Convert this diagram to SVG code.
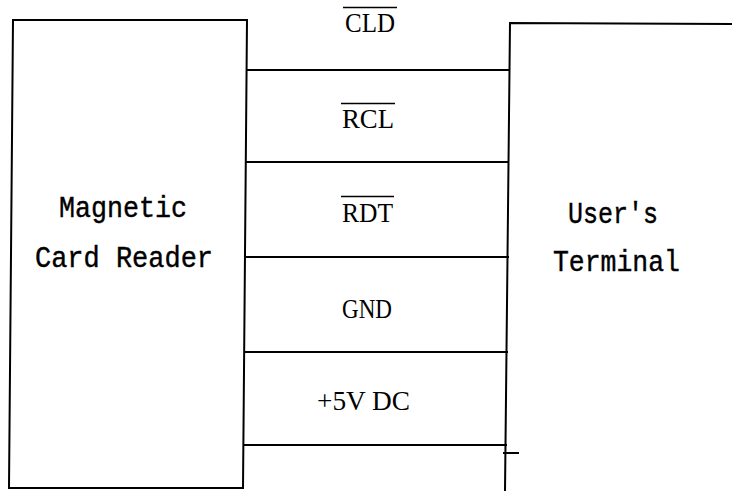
<svg xmlns="http://www.w3.org/2000/svg" width="732" height="491" viewBox="0 0 732 491">
<style>
.ln{fill:none;stroke:#000;stroke-width:2;stroke-linecap:square}
.ol{fill:none;stroke:#000;stroke-width:1.5}
.mono{font-family:"Liberation Mono","DejaVu Sans Mono",monospace;font-size:29px;fill:#000;stroke:#000;stroke-width:0.4}
.serif{font-family:"Liberation Serif","DejaVu Serif",serif;font-size:28px;fill:#000}
</style>
<rect width="732" height="491" fill="#fff"/>
<g id="card-reader">
<path class="ln" d="M13,20 L247,20 L243,488 L9,488 Z"/>
<text class="mono" x="59" y="217" textLength="128" lengthAdjust="spacingAndGlyphs">Magnetic</text>
<text class="mono" x="35" y="267" textLength="178" lengthAdjust="spacingAndGlyphs">Card Reader</text>
</g>
<g id="user-terminal">
<path class="ln" d="M732,24 L510,23 L505,491"/>
<text class="mono" x="568" y="223" textLength="90" lengthAdjust="spacingAndGlyphs">User's</text>
<text class="mono" x="553" y="271" textLength="127" lengthAdjust="spacingAndGlyphs">Terminal</text>
</g>
<g id="connectors">
<line class="ln" x1="247" y1="70" x2="509" y2="70"/>
<line class="ln" x1="246" y1="162" x2="508" y2="162"/>
<line class="ln" x1="246" y1="257" x2="508" y2="257"/>
<line class="ln" x1="245" y1="352" x2="507" y2="352"/>
<line class="ln" x1="244" y1="445" x2="506" y2="445"/>
<line class="ln" x1="504" y1="453" x2="518" y2="453"/>
</g>
<g id="labels">
<text class="serif" x="345" y="32" textLength="50" lengthAdjust="spacingAndGlyphs">CLD</text>
<line class="ol" x1="343" y1="7.5" x2="397" y2="7.5"/>
<text class="serif" x="342" y="128" textLength="52" lengthAdjust="spacingAndGlyphs">RCL</text>
<line class="ol" x1="341" y1="103.5" x2="395" y2="103.5"/>
<text class="serif" x="342" y="222" textLength="51" lengthAdjust="spacingAndGlyphs">RDT</text>
<line class="ol" x1="341" y1="196.5" x2="394" y2="196.5"/>
<text class="serif" x="342" y="318" textLength="50" lengthAdjust="spacingAndGlyphs">GND</text>
<text class="serif" x="317" y="410" textLength="93" lengthAdjust="spacingAndGlyphs">+5V DC</text>
</g>
</svg>
